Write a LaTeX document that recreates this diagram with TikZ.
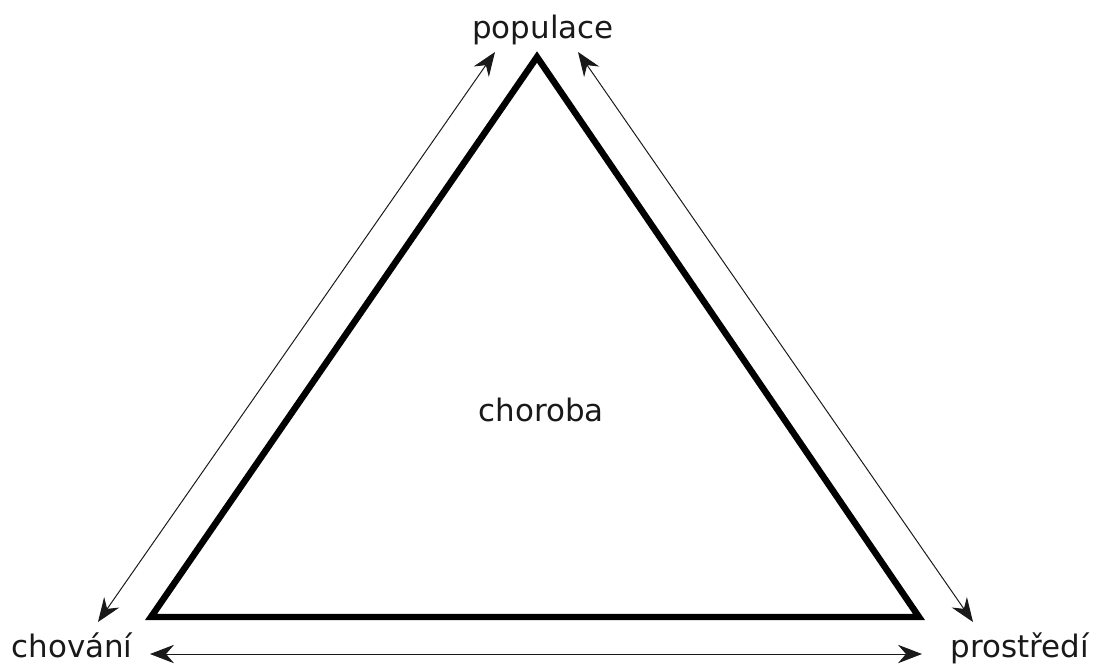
\documentclass[tikz,border=0pt]{standalone}
\usepackage{fontspec}
\setmainfont{DejaVu Sans}
\usetikzlibrary{arrows.meta}
\tikzset{
  tri diagram/.style={x=0.025cm, y=-0.025cm, line join=miter},
  tri edge/.style={draw=black, line width=4.6pt},
  tri arrow/.style={{Stealth[length=6mm,width=4.6mm,inset=2mm]}-{Stealth[length=6mm,width=4.6mm,inset=2mm]}, draw=black!90, line width=0.7pt},
  tri label/.style={font=\fontsize{22}{26}\selectfont, text=black!90, inner sep=0pt}
}
\begin{document}
\begin{tikzpicture}[tri diagram]
\useasboundingbox (0,0) rectangle (1097,666);
% corners of the triangle
\coordinate (top) at (537,57);
\coordinate (left) at (151,617);
\coordinate (right) at (919,617);
\draw[tri edge] (top) -- (left) -- (right) -- cycle;
% labels
\node[tri label, anchor=base] (pop) at (543,38) {populace};
\node[tri label, anchor=base] (chov) at (72,657) {chování};
\node[tri label, anchor=base] (prost) at (1020,657) {prostředí};
\node[tri label] (chor) at (541,410) {choroba};
% arrow ends
\coordinate (popL) at (495,52);
\coordinate (popR) at (578,52);
\coordinate (chovT) at (98,622);
\coordinate (chovR) at (150,654);
\coordinate (prostT) at (973,622);
\coordinate (prostL) at (922,654);
\draw[tri arrow] (chovT) -- (popL);
\draw[tri arrow] (popR) -- (prostT);
\draw[tri arrow] (chovR) -- (prostL);
\end{tikzpicture}
\end{document}
